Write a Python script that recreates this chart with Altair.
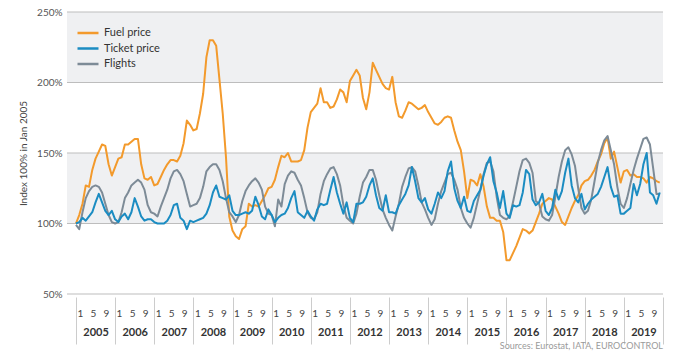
import altair as alt
import pandas as pd

# ---- data (index, Jan 2005 = 100) ----
years = [2005, 2006, 2007, 2008, 2009, 2010, 2011, 2012, 2013, 2014, 2015, 2016, 2017, 2018, 2019]
month_ticks = [1, 5, 9]
series_names = ["Fuel price", "Ticket price", "Flights"]

fuel = [
    [100, 106, 114, 127, 126, 138, 146, 151, 156, 155, 142, 134],
    [140, 146, 147, 156, 156, 158, 160, 160, 142, 132, 131, 133],
    [127, 128, 133, 138, 142, 145, 145, 144, 148, 157, 173, 170],
    [166, 167, 178, 192, 218, 230, 230, 226, 202, 178, 147, 105],
    [95, 91, 89, 96, 98, 114, 112, 113, 112, 116, 120, 125],
    [126, 131, 140, 148, 147, 150, 144, 144, 144, 145, 152, 168],
    [179, 182, 185, 196, 186, 186, 182, 183, 188, 195, 193, 186],
    [201, 205, 209, 205, 189, 181, 193, 214, 209, 204, 199, 196],
    [195, 204, 186, 176, 175, 180, 186, 185, 183, 181, 182, 184],
    [179, 175, 171, 170, 172, 175, 176, 175, 166, 158, 152, 137],
    [118, 131, 130, 127, 135, 126, 112, 104, 104, 102, 102, 94],
    [74, 74, 79, 84, 90, 96, 95, 93, 95, 101, 107, 114],
    [116, 118, 117, 112, 107, 101, 99, 105, 111, 116, 120, 127],
    [130, 131, 134, 138, 144, 149, 157, 161, 146, 151, 140, 129],
    [137, 138, 134, 135, 133, 133, 132, 129, 133, 132, 130, 129],
]

ticket = [
    [100, 101, 104, 102, 105, 108, 115, 121, 115, 109, 106, 109],
    [103, 101, 105, 107, 103, 108, 118, 112, 105, 102, 103, 103],
    [101, 100, 100, 100, 102, 106, 113, 114, 104, 102, 96, 102],
    [101, 102, 103, 104, 107, 113, 122, 127, 119, 118, 117, 120],
    [109, 106, 106, 107, 108, 107, 109, 119, 113, 105, 103, 110],
    [106, 101, 104, 106, 107, 111, 118, 123, 108, 106, 104, 109],
    [105, 102, 110, 114, 113, 114, 124, 133, 122, 114, 107, 115],
    [104, 101, 114, 114, 115, 119, 127, 132, 120, 111, 109, 120],
    [108, 108, 107, 113, 117, 121, 127, 140, 130, 118, 115, 118],
    [110, 107, 114, 122, 118, 123, 137, 144, 125, 116, 111, 119],
    [109, 108, 116, 120, 124, 134, 142, 147, 130, 122, 111, 123],
    [107, 104, 113, 112, 113, 122, 138, 135, 117, 113, 115, 121],
    [109, 106, 111, 124, 117, 123, 136, 146, 127, 118, 115, 121],
    [110, 114, 117, 119, 121, 126, 133, 140, 126, 119, 120, 107],
    [107, 109, 111, 128, 120, 128, 142, 150, 122, 120, 114, 122],
]

flights = [
    [99, 96, 108, 118, 123, 126, 127, 126, 122, 114, 106, 101],
    [100, 101, 108, 118, 122, 127, 129, 131, 129, 124, 113, 108],
    [107, 105, 112, 118, 124, 132, 137, 138, 135, 130, 121, 112],
    [113, 114, 118, 126, 137, 140, 142, 142, 138, 130, 118, 108],
    [105, 101, 106, 116, 123, 127, 130, 132, 129, 124, 112, 107],
    [106, 98, 117, 112, 128, 134, 137, 136, 131, 127, 118, 108],
    [104, 103, 108, 121, 130, 135, 139, 140, 135, 127, 113, 104],
    [102, 100, 107, 119, 129, 133, 138, 138, 131, 120, 110, 104],
    [99, 95, 105, 114, 126, 133, 139, 140, 137, 127, 115, 110],
    [104, 99, 103, 114, 123, 129, 135, 136, 131, 124, 111, 104],
    [100, 97, 104, 114, 124, 135, 143, 144, 137, 119, 106, 104],
    [103, 105, 115, 126, 137, 145, 146, 143, 136, 116, 114, 105],
    [103, 102, 106, 119, 133, 144, 152, 154, 149, 141, 125, 111],
    [107, 109, 117, 130, 143, 152, 159, 162, 152, 142, 126, 114],
    [111, 118, 128, 138, 146, 153, 160, 161, 156, 139, 121, 121],
]

band_low = [100, 200]
band_high = [150, 250]
grid_values = [50, 100, 150, 200, 250]
source_text = "Sources: Eurostat, IATA, EUROCONTROL"

colors = ["#F39A2C", "#1B8CC2", "#7D8B97"]
FONT = "Lato"

rows = []
for name, arr in zip(series_names, [fuel, ticket, flights]):
    for yi, yr in enumerate(arr):
        for mi, v in enumerate(yr):
            rows.append({"t": yi * 12 + mi, "v": v, "series": name})
df = pd.DataFrame(rows)

W, H = 596, 282
xscale = alt.Scale(domain=[-2.75, 180], nice=False, zero=False)
yscale = alt.Scale(domain=[50, 250], nice=False, zero=False)

yaxis = alt.Axis(
    values=grid_values, labelExpr="datum.value + '%'", grid=False, ticks=False,
    domain=False, labelPadding=5, labelFont=FONT, labelFontSize=10,
    labelColor="#555555", title="Index 100% in Jan 2005", titleFont=FONT,
    titleFontSize=10, titleFontWeight="normal", titleColor="#444444",
    titleX=-44, titleY=H / 2, titleBaseline="middle",
)
Y = alt.Y("v:Q", scale=yscale, axis=yaxis)

bands = alt.Chart(pd.DataFrame({"v": band_low, "v2": band_high})).mark_rect(
    color="#EFF0F2"
).encode(y=Y, y2="v2:Q")

grid = alt.Chart(pd.DataFrame({"v": grid_values})).mark_rule(
    color="#BDBDBD", strokeWidth=1
).encode(y=Y)

sep_vals = [i * 12 for i in range(len(years) + 1)]
month_vals = [i * 12 + m + 0.2 for i in range(len(years)) for m in month_ticks]
year_vals = [i * 12 + 6 for i in range(len(years))]

axis_sep = alt.Axis(values=sep_vals, orient="bottom", labels=False, ticks=True,
                    tickSize=47, tickColor="#CCCCCC", tickWidth=1, domain=False,
                    grid=False, title=None, offset=3)
axis_month = alt.Axis(values=month_vals, orient="bottom", ticks=False, tickSize=0,
                      domain=False, grid=False, title=None,
                      labelExpr="floor(datum.value % 12)", labelPadding=14,
                      labelFont=FONT, labelFontSize=10, labelColor="#444444",
                      labelOverlap=False, labelFlush=False, labelBound=False)
axis_year = alt.Axis(values=year_vals, orient="bottom", ticks=False, tickSize=0,
                     domain=False, grid=False, title=None,
                     labelExpr=f"{years[0]} + floor(datum.value / 12)",
                     labelPadding=32, labelFont=FONT, labelFontSize=11,
                     labelFontWeight="bold", labelColor="#333333",
                     labelOverlap=False, labelFlush=False, labelBound=False)

color = alt.Color(
    "series:N",
    scale=alt.Scale(domain=series_names, range=colors),
    legend=alt.Legend(
        title=None, orient="none", legendX=12, legendY=12,
        symbolType="M-1.4,0H1.4", symbolStrokeWidth=2.5, symbolSize=225,
        labelFont=FONT, labelFontSize=11, labelColor="#333333",
        rowPadding=1.5, labelOffset=7, padding=0,
    ),
)

def line_layer(name, axis):
    return alt.Chart(df).transform_filter(
        alt.datum.series == name
    ).mark_line(strokeWidth=2, strokeJoin="round").encode(
        x=alt.X("t:Q", scale=xscale, axis=axis),
        y=Y,
        color=color,
    )

fuel_l = line_layer("Fuel price", axis_sep)
flights_l = line_layer("Flights", axis_month)
ticket_l = line_layer("Ticket price", axis_year)

source = alt.Chart(pd.DataFrame({"s": [source_text]})).mark_text(
    align="right", baseline="bottom", font=FONT, fontSize=9, color="#9A9A9A"
).encode(text="s:N", x=alt.value(W), y=alt.value(H + 57))

chart = alt.layer(bands, grid, fuel_l, flights_l, ticket_l, source).resolve_axis(
    x="independent"
).properties(
    width=W, height=H,
    autosize=alt.AutoSizeParams(type="none"),
    padding={"left": 67, "top": 12, "right": 20, "bottom": 58},
).configure_view(stroke=None)

chart.save("out.html", embed_options={"renderer": "svg", "actions": False})
